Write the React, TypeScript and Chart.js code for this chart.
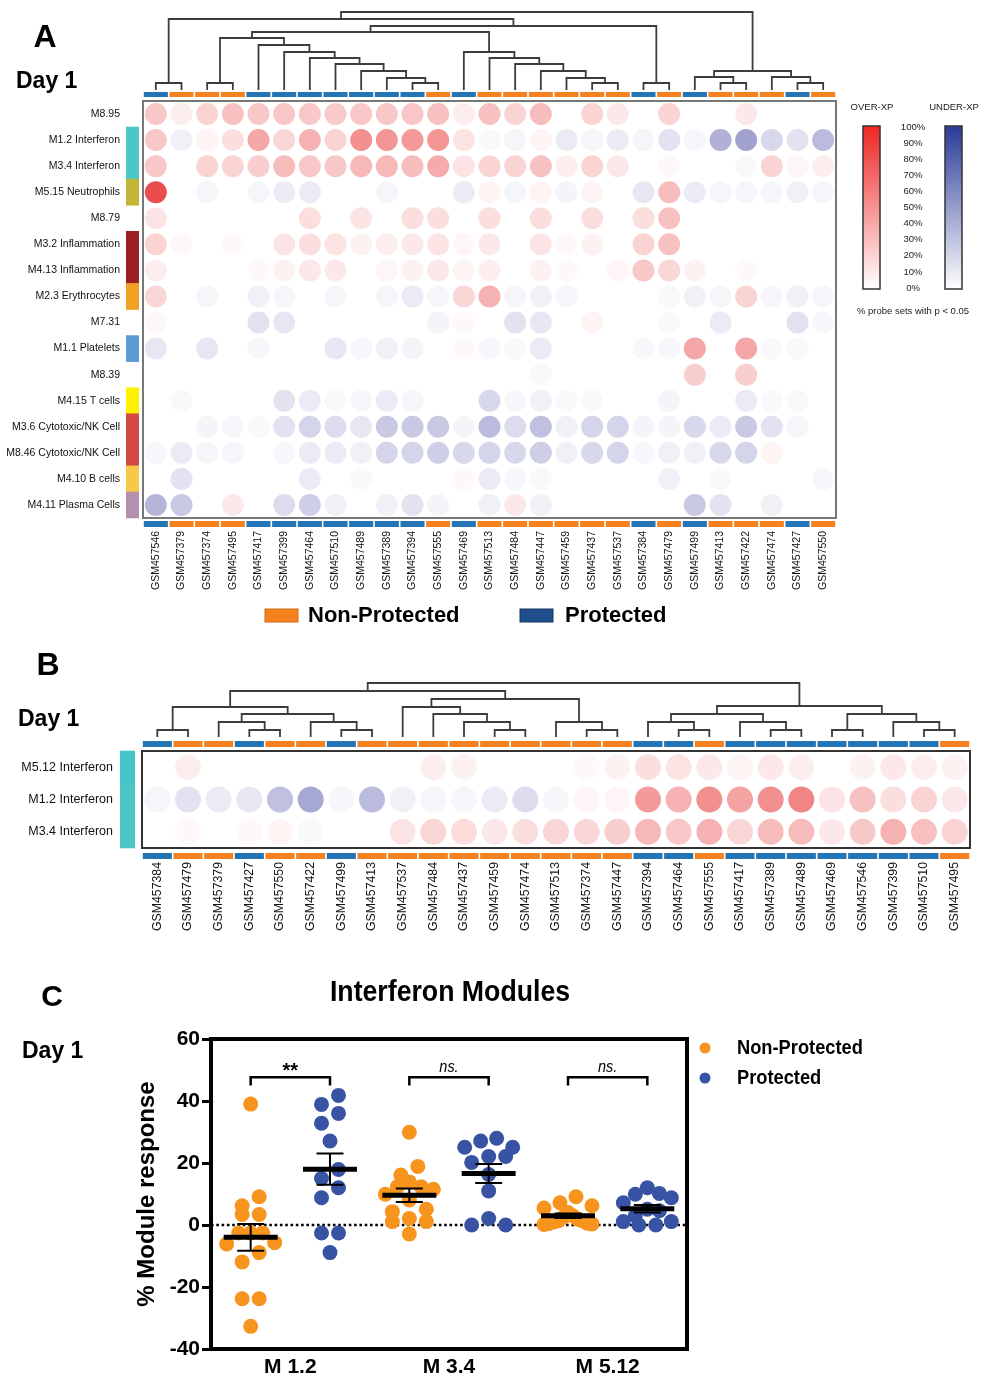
import React, { useEffect, useRef } from 'react';
import { Chart, registerables } from 'chart.js';
Chart.register(...registerables);

// ------------------------------------------------------------------ DATA
// Panel A – samples (columns, dendrogram order) and modules (rows)
const samplesA = ['GSM457546', 'GSM457379', 'GSM457374', 'GSM457495', 'GSM457417', 'GSM457399', 'GSM457464', 'GSM457510', 'GSM457489', 'GSM457389', 'GSM457394', 'GSM457555', 'GSM457469', 'GSM457513', 'GSM457484', 'GSM457447', 'GSM457459', 'GSM457437', 'GSM457537', 'GSM457384', 'GSM457479', 'GSM457499', 'GSM457413', 'GSM457422', 'GSM457474', 'GSM457427', 'GSM457550'];
const modulesA = ['M8.95', 'M1.2 Interferon', 'M3.4 Interferon', 'M5.15 Neutrophils', 'M8.79', 'M3.2 Inflammation', 'M4.13 Inflammation', 'M2.3 Erythrocytes', 'M7.31', 'M1.1 Platelets', 'M8.39', 'M4.15 T cells', 'M3.6 Cytotoxic/NK Cell', 'M8.46 Cytotoxic/NK Cell', 'M4.10 B cells', 'M4.11 Plasma Cells'];
// % probe sets with p<0.05 : positive = over-expressed, negative = under-expressed
const a_M8_95 = [25, 8, 20, 28, 25, 26, 25, 24, 25, 25, 26, 28, 8, 28, 20, 30, 0, 20, 10, 0, 20, 0, 0, 10, 0, 0, 0];
const a_M1_2 = [25, -8, 5, 15, 40, 18, 35, 20, 50, 48, 46, 48, 12, -3, -5, 5, -10, -5, -10, -5, -15, -5, -40, -48, -20, -15, -35];
const a_M3_4 = [25, 0, 20, 20, 22, 30, 25, 25, 32, 32, 30, 38, 12, 20, 20, 28, 8, 20, 10, 0, 3, 0, 0, -3, 20, 4, 8];
const a_M5_15 = [80, 0, -5, 0, -5, -10, -10, 0, 0, -5, 0, 0, -10, 5, -5, 5, -6, 5, 0, -12, 30, -10, -5, -5, -5, -8, -5];
const a_M8_79 = [12, 0, 0, 0, 0, 0, 15, 0, 12, 0, 15, 15, 0, 15, 0, 15, 0, 15, 0, 15, 28, 0, 0, 0, 0, 0, 0];
const a_M3_2 = [20, 3, 0, 3, 0, 12, 15, 12, 6, 8, 10, 12, 4, 10, 0, 12, 3, 6, 0, 20, 28, 0, 0, 0, 0, 0, 0];
const a_M4_13 = [8, 0, 0, 0, 3, 6, 10, 10, 0, 4, 6, 10, 5, 8, 0, 6, 3, 0, 4, 25, 18, 6, 0, 3, 0, 0, 0];
const a_M2_3 = [18, 0, -5, 0, -8, -5, 0, -4, 0, -5, -10, -5, 18, 35, -5, -8, -5, 0, 0, 0, -3, -8, -5, 20, -5, -8, -4];
const a_M7_31 = [3, 0, 0, 0, -15, -12, 0, 0, 0, 0, 0, -6, 3, 0, -15, -12, 0, 5, 0, 0, -3, 0, -10, 0, 0, -15, -4];
const a_M1_1 = [-12, 0, -12, 0, -4, 0, 0, -12, -4, -8, -6, 0, 3, -4, -3, -10, 0, 0, 0, -4, -4, 40, 0, 40, -3, -3, 0];
const a_M8_39 = [0, 0, 0, 0, 0, 0, 0, 0, 0, 0, 0, 0, 0, 0, 0, -3, 0, 0, 0, 0, 0, 22, 0, 22, 0, 0, 0];
const a_M4_15 = [0, -3, 0, 0, 0, -15, -10, -3, -4, -10, -5, 0, 0, -20, -4, -8, -3, -3, 0, 0, -6, 0, 0, -10, -3, -3, 0];
const a_M3_6 = [0, 0, -6, -4, -3, -15, -22, -18, -12, -28, -28, -28, -6, -35, -18, -32, -8, -22, -22, -6, -6, -20, -10, -28, -15, -4, 0];
const a_M8_46 = [-4, -10, -5, -5, 0, -4, -10, -10, -8, -22, -22, -25, -20, -22, -20, -25, -8, -20, -22, -4, -8, -8, -20, -22, 5, 0, 0];
const a_M4_10 = [0, -15, 0, 0, 0, 0, -10, 0, -3, 0, 0, 0, 3, -10, -4, -3, 0, 0, 0, 0, -8, 0, -3, 0, 0, 0, -4];
const a_M4_11 = [-38, -28, 0, 10, 0, -18, -25, -8, 0, -8, -15, -6, 0, -8, 10, -8, 0, 0, 0, 0, 0, -28, -15, 0, -8, 0, 0];

// Panel B
const samplesB = ['GSM457384', 'GSM457479', 'GSM457379', 'GSM457427', 'GSM457550', 'GSM457422', 'GSM457499', 'GSM457413', 'GSM457537', 'GSM457484', 'GSM457437', 'GSM457459', 'GSM457474', 'GSM457513', 'GSM457374', 'GSM457447', 'GSM457394', 'GSM457464', 'GSM457555', 'GSM457417', 'GSM457389', 'GSM457489', 'GSM457469', 'GSM457546', 'GSM457399', 'GSM457510', 'GSM457495'];
const modulesB = ['M5.12 Interferon', 'M1.2 Interferon', 'M3.4 Interferon'];
const b_M5_12 = [0, 8, 0, 0, 0, 0, 0, 0, 0, 8, 6, 0, 0, 0, 3, 6, 15, 12, 10, 5, 10, 8, 0, 6, 10, 8, 6];
const b_M1_2 = [-5, -15, -10, -12, -32, -45, -4, -35, -8, -5, -5, -10, -18, -4, 4, 4, 45, 35, 50, 42, 50, 55, 12, 28, 15, 20, 10];
const b_M3_4 = [0, 3, 0, 3, 5, -3, 0, 0, 12, 18, 16, 10, 15, 18, 18, 22, 32, 25, 35, 18, 30, 30, 10, 25, 35, 28, 20];

// Group membership
const protectedSamples = ['GSM457546', 'GSM457417', 'GSM457399', 'GSM457464', 'GSM457510', 'GSM457489', 'GSM457389', 'GSM457394', 'GSM457469', 'GSM457384', 'GSM457499', 'GSM457427'];
const groupNames = ['Non-Protected', 'Protected'];

// Dendrogram merges (hclust style): negative = leaf (1-based column), positive = earlier merge, third = height
const mergesA = [
  [-1, -2, 7], [-3, -4, 7], [-11, -12, 7], [-10, 3, 12], [-9, 4, 19], [-8, 5, 26], [-7, 6, 32], [-6, 7, 38], [-5, 8, 45], [2, 9, 52],
  [-18, -19, 7], [-17, 11, 12], [-16, 12, 19], [-15, 13, 26], [-14, 14, 32], [-13, 15, 38], [10, 16, 58], [-20, -21, 7], [17, 18, 64], [1, 19, 71],
  [-23, -24, 7], [-22, 21, 13], [-26, -27, 7], [-25, 23, 13], [22, 24, 19], [20, 25, 78],
];
const mergesB = [
  [-1, -2, 7], [-4, -5, 7], [-3, 2, 15], [-7, -8, 7], [-6, 4, 15], [3, 5, 23], [1, 6, 30], [-12, -13, 7], [-11, 8, 15], [-10, 9, 23],
  [-9, 10, 30], [-15, -16, 7], [-14, 12, 15], [11, 13, 38], [7, 14, 46], [-18, -19, 7], [-17, 16, 15], [-21, -22, 7], [-20, 18, 15], [17, 19, 23],
  [-23, -24, 7], [-26, -27, 7], [-25, 22, 15], [21, 23, 23], [20, 24, 31], [15, 25, 54],
];
const colorbarTicks = ['100%', '90%', '80%', '70%', '60%', '50%', '40%', '30%', '20%', '10%', '0%'];

// Panel C – % module response per subject
const modulesC = ['M 1.2', 'M 3.4', 'M 5.12'];
const c_M1_2_NP = [39, 9.1, 6.2, 3.4, 3.4, -2.6, -2.6, -2.6, -5.7, -6.1, -8.9, -11.9, -23.8, -23.8, -32.7];
const c_M1_2_P = [41.8, 38.9, 36.0, 32.8, 27.1, 17.9, 15.0, 12.0, 8.8, -2.6, -2.6, -8.9];
const c_M3_4_NP = [29.9, 18.9, 16.1, 13.9, 12.3, 12.3, 11.5, 9.9, 8.1, 5.1, 4.3, 2.1, 1.1, 1.1, -2.9];
const c_M3_4_P = [28.0, 27.1, 25.1, 25.1, 22.1, 22.1, 20.2, 16.3, 11.0, 2.1, 0, 0];
const c_M5_12_NP = [9.1, 7.2, 6.2, 5.5, 4.0, 3.0, 2.5, 1.9, 1.4, 1.0, 0.6, 0.3, 0.2, 0.5, 1.4];
const c_M5_12_P = [12.0, 10.2, 9.9, 8.8, 7.2, 5.1, 4.6, 3.0, 1.1, 1.1, 0, 0];
const significance = ['**', 'ns.', 'ns.'];

// ------------------------------------------------------------------ STYLE
const FONT = "'Liberation Sans', Arial, Helvetica, sans-serif";
const ORANGE_BAR = '#f5821f';
const BLUE_BAR = '#2475b5';
const DOT_ORANGE = '#f7941d';
const DOT_BLUE = '#3953a4';
const MODULE_COLORS: Record<string, string> = {
  'M1.2 Interferon': '#4cc6c6',
  'M3.4 Interferon': '#4cc6c6',
  'M5.12 Interferon': '#45c4c8',
  'M5.15 Neutrophils': '#c2b634',
  'M3.2 Inflammation': '#9a1f22',
  'M4.13 Inflammation': '#9a1f22',
  'M2.3 Erythrocytes': '#f0a024',
  'M1.1 Platelets': '#5b9bd3',
  'M4.15 T cells': '#fff200',
  'M3.6 Cytotoxic/NK Cell': '#d24b42',
  'M8.46 Cytotoxic/NK Cell': '#d24b42',
  'M4.10 B cells': '#f7c948',
  'M4.11 Plasma Cells': '#b58fae',
};

Chart.defaults.font.family = FONT;
Chart.defaults.color = '#111';

function cellColor(v: number) {
  const a = Math.min(1, Math.abs(v) / 100);
  return v > 0 ? `rgba(229,33,33,${a})` : `rgba(60,60,158,${a})`;
}

function txt(ctx: CanvasRenderingContext2D, s: string, x: number, y: number, font: string, align: CanvasTextAlign = 'left', color = '#000', squeeze = 1) {
  ctx.save();
  ctx.font = font;
  ctx.fillStyle = color;
  ctx.textAlign = align;
  ctx.textBaseline = 'middle';
  ctx.translate(x, y);
  ctx.scale(squeeze, 1);
  ctx.fillText(s, 0, 0);
  ctx.restore();
}

type HeatCfg = {
  samples: string[];
  modules: string[];
  rows: number[][];
  merges: number[][];
  pad: { left: number; top: number; right: number; bottom: number };
  yWidth: number;
  xHeight: number;
  radius: number;
  rowFont: number;
  colFont: number;
  yPad: number;
  xPad: number;
  leafBase: number;
  topBar: [number, number];
  bottomBar: [number, number];
  blockX: [number, number];
  boxColor: string;
  boxWidth: number;
  extra?: (ctx: CanvasRenderingContext2D, chart: any) => void;
};

function makeHeat(canvas: HTMLCanvasElement, cfg: HeatCfg) {
  const pts: any[] = [];
  cfg.rows.forEach((row, r) => row.forEach((v, c) => {
    if (v !== 0) pts.push({ x: cfg.samples[c], y: cfg.modules[r], v });
  }));
  const deco = {
    id: 'heatDeco',
    afterDraw(chart: any) {
      const ctx: CanvasRenderingContext2D = chart.ctx;
      const xs = chart.scales.x;
      const ys = chart.scales.y;
      const a = chart.chartArea;
      ctx.save();
      ctx.strokeStyle = cfg.boxColor;
      ctx.lineWidth = cfg.boxWidth;
      ctx.strokeRect(a.left, a.top, a.right - a.left, a.bottom - a.top);
      const bw = (a.right - a.left) / cfg.samples.length;
      cfg.samples.forEach((s, i) => {
        const x = xs.getPixelForValue(i);
        ctx.fillStyle = protectedSamples.includes(s) ? BLUE_BAR : ORANGE_BAR;
        ctx.fillRect(x - bw / 2 + 0.8, cfg.topBar[0], bw - 1.6, cfg.topBar[1] - cfg.topBar[0]);
        ctx.fillRect(x - bw / 2 + 0.8, cfg.bottomBar[0], bw - 1.6, cfg.bottomBar[1] - cfg.bottomBar[0]);
      });
      const rh = (a.bottom - a.top) / cfg.modules.length;
      cfg.modules.forEach((m, r) => {
        const col = MODULE_COLORS[m];
        if (!col) return;
        const y = ys.getPixelForValue(r);
        ctx.fillStyle = col;
        ctx.fillRect(cfg.blockX[0], y - rh / 2 - 0.3, cfg.blockX[1] - cfg.blockX[0], rh + 0.6);
      });
      // dendrogram
      const nx: number[] = [];
      const ny: number[] = [];
      const pos = (id: number) => id < 0
        ? { x: xs.getPixelForValue(-id - 1), y: cfg.leafBase }
        : { x: nx[id - 1], y: ny[id - 1] };
      ctx.strokeStyle = '#3c3c3c';
      ctx.lineWidth = 1.8;
      ctx.beginPath();
      cfg.merges.forEach(([l, r, h], i) => {
        const pl = pos(l);
        const pr = pos(r);
        const y = cfg.leafBase - h;
        ctx.moveTo(pl.x, pl.y);
        ctx.lineTo(pl.x, y);
        ctx.lineTo(pr.x, y);
        ctx.lineTo(pr.x, pr.y);
        nx[i] = (pl.x + pr.x) / 2;
        ny[i] = y;
      });
      ctx.stroke();
      if (cfg.extra) cfg.extra(ctx, chart);
      ctx.restore();
    },
  };
  return new Chart(canvas, {
    type: 'scatter',
    data: {
      datasets: [{
        data: pts,
        pointRadius: cfg.radius,
        pointHoverRadius: cfg.radius,
        borderWidth: 0,
        backgroundColor: (c: any) => cellColor(c.raw ? c.raw.v : 0),
      }],
    },
    options: {
      animation: false,
      responsive: false,
      devicePixelRatio: 1,
      events: [],
      layout: { padding: cfg.pad },
      plugins: { legend: { display: false }, tooltip: { enabled: false } },
      scales: {
        x: {
          type: 'category',
          labels: cfg.samples,
          offset: true,
          position: 'bottom',
          grid: { display: false, drawTicks: false },
          border: { display: false },
          ticks: { autoSkip: false, minRotation: 90, maxRotation: 90, padding: cfg.xPad, color: '#111', font: { size: cfg.colFont } },
          afterFit: (s: any) => { s.height = cfg.xHeight; },
        },
        y: {
          type: 'category',
          labels: cfg.modules,
          offset: true,
          position: 'left',
          grid: { display: false, drawTicks: false },
          border: { display: false },
          ticks: { autoSkip: false, padding: cfg.yPad, color: '#111', font: { size: cfg.rowFont } },
          afterFit: (s: any) => { s.width = cfg.yWidth; },
        },
      },
    } as any,
    plugins: [deco],
  });
}

function extraA(ctx: CanvasRenderingContext2D) {
  txt(ctx, 'A', 45, 38, `bold 32px ${FONT}`, 'center');
  txt(ctx, 'Day 1', 16, 82, `bold 23px ${FONT}`);
  // colour keys
  const top = 126;
  const bot = 289;
  const gR = ctx.createLinearGradient(0, top, 0, bot);
  gR.addColorStop(0, '#ee2624');
  gR.addColorStop(1, '#ffffff');
  ctx.fillStyle = gR;
  ctx.fillRect(863, top, 17, bot - top);
  const gB = ctx.createLinearGradient(0, top, 0, bot);
  gB.addColorStop(0, '#2b3b98');
  gB.addColorStop(1, '#ffffff');
  ctx.fillStyle = gB;
  ctx.fillRect(945, top, 17, bot - top);
  ctx.strokeStyle = '#333';
  ctx.lineWidth = 1.5;
  ctx.strokeRect(863, top, 17, bot - top);
  ctx.strokeRect(945, top, 17, bot - top);
  colorbarTicks.forEach((t, i) => {
    txt(ctx, t, 913, top + 1 + (i * (bot - top - 2)) / (colorbarTicks.length - 1), `9.5px ${FONT}`, 'center', '#222');
  });
  txt(ctx, 'OVER-XP', 872, 107, `9.5px ${FONT}`, 'center', '#222');
  txt(ctx, 'UNDER-XP', 954, 107, `9.5px ${FONT}`, 'center', '#222');
  txt(ctx, '% probe sets with p < 0.05', 913, 311, `9.5px ${FONT}`, 'center', '#222');
  // group legend
  ctx.fillStyle = ORANGE_BAR;
  ctx.fillRect(265, 609, 33, 13);
  ctx.strokeStyle = '#d06a12';
  ctx.lineWidth = 1;
  ctx.strokeRect(265, 609, 33, 13);
  txt(ctx, groupNames[0], 308, 616, `bold 22px ${FONT}`);
  ctx.fillStyle = '#1f4e8c';
  ctx.fillRect(520, 609, 33, 13);
  ctx.strokeStyle = '#123463';
  ctx.strokeRect(520, 609, 33, 13);
  txt(ctx, groupNames[1], 565, 616, `bold 22px ${FONT}`);
}

function extraB(ctx: CanvasRenderingContext2D) {
  txt(ctx, 'B', 48, 26, `bold 32px ${FONT}`, 'center');
  txt(ctx, 'Day 1', 18, 80, `bold 23px ${FONT}`);
}

function mean(v: number[]) { return v.reduce((s, x) => s + x, 0) / v.length; }
function sem(v: number[]) {
  const m = mean(v);
  const sd = Math.sqrt(v.reduce((s, x) => s + (x - m) * (x - m), 0) / (v.length - 1));
  return sd / Math.sqrt(v.length);
}

// column-scatter layout: points binned by value, spread symmetrically in each bin
function columnScatter(values: number[], center: number, pxX: number, pxY: number, binPx: number, step: number, maxHalf: number) {
  const order = values.map((_, i) => i).sort((a, b) => values[b] - values[a]);
  const out: { x: number; y: number }[] = new Array(values.length);
  let i = 0;
  while (i < order.length) {
    const start = values[order[i]];
    const bin: number[] = [];
    while (i < order.length && (start - values[order[i]]) * pxY <= binPx) { bin.push(order[i]); i++; }
    const n = bin.length;
    const s = n > 1 ? Math.min(step, (2 * maxHalf) / (n - 1)) : 0;
    const slots: number[] = [];
    for (let k = 0; k < n; k++) slots.push((k - (n - 1) / 2) * s);
    slots.sort((a, b) => Math.abs(a) - Math.abs(b) || b - a);
    bin.forEach((idx, j) => { out[idx] = { x: center + slots[j] / pxX, y: values[idx] }; });
  }
  return out;
}

function makeDot(canvas: HTMLCanvasElement) {
  const npGroups = [c_M1_2_NP, c_M3_4_NP, c_M5_12_NP];
  const pGroups = [c_M1_2_P, c_M3_4_P, c_M5_12_P];
  const pxX = 476 / 6;
  const pxY = 310 / 100;
  const npData = npGroups.flatMap((g, m) => columnScatter(g, m * 2 + 0.5, pxX, pxY, 15, 17, 24));
  const pData = pGroups.flatMap((g, m) => columnScatter(g, m * 2 + 1.5, pxX, pxY, 15, 17, 24));
  const deco = {
    id: 'dotDeco',
    beforeDatasetsDraw(chart: any) {
      const ctx: CanvasRenderingContext2D = chart.ctx;
      const a = chart.chartArea;
      const y0 = chart.scales.y.getPixelForValue(0);
      ctx.save();
      ctx.strokeStyle = '#000';
      ctx.lineWidth = 2.6;
      ctx.setLineDash([2.6, 2.7]);
      ctx.beginPath();
      ctx.moveTo(a.left, y0);
      ctx.lineTo(a.right, y0);
      ctx.stroke();
      ctx.restore();
    },
    afterDatasetsDraw(chart: any) {
      const ctx: CanvasRenderingContext2D = chart.ctx;
      const a = chart.chartArea;
      const xs = chart.scales.x;
      const ys = chart.scales.y;
      ctx.save();
      ctx.strokeStyle = '#000';
      const groups = [c_M1_2_NP, c_M1_2_P, c_M3_4_NP, c_M3_4_P, c_M5_12_NP, c_M5_12_P];
      groups.forEach((g, k) => {
        const cx = k + 0.5;
        const m = mean(g);
        const e = sem(g);
        ctx.lineWidth = 2;
        ctx.beginPath();
        ctx.moveTo(xs.getPixelForValue(cx), ys.getPixelForValue(m - e));
        ctx.lineTo(xs.getPixelForValue(cx), ys.getPixelForValue(m + e));
        [m - e, m + e].forEach((v) => {
          ctx.moveTo(xs.getPixelForValue(cx - 0.17), ys.getPixelForValue(v));
          ctx.lineTo(xs.getPixelForValue(cx + 0.17), ys.getPixelForValue(v));
        });
        ctx.stroke();
        ctx.lineWidth = 5;
        ctx.beginPath();
        ctx.moveTo(xs.getPixelForValue(cx - 0.34), ys.getPixelForValue(m));
        ctx.lineTo(xs.getPixelForValue(cx + 0.34), ys.getPixelForValue(m));
        ctx.stroke();
      });
      significance.forEach((s, m) => {
        const x1 = xs.getPixelForValue(m * 2 + 0.5);
        const x2 = xs.getPixelForValue(m * 2 + 1.5);
        const yb = ys.getPixelForValue(47.7);
        const ye = ys.getPixelForValue(45);
        ctx.lineWidth = 2.5;
        ctx.beginPath();
        ctx.moveTo(x1, ye);
        ctx.lineTo(x1, yb);
        ctx.lineTo(x2, yb);
        ctx.lineTo(x2, ye);
        ctx.stroke();
        if (s === '**') txt(ctx, s, (x1 + x2) / 2, yb - 6, `bold 20px ${FONT}`, 'center');
        else txt(ctx, s, (x1 + x2) / 2, yb - 10, `italic 17px ${FONT}`, 'center', '#000', 0.85);
      });
      ctx.lineWidth = 4;
      ctx.strokeRect(a.left, a.top, a.right - a.left, a.bottom - a.top);
      ctx.restore();
    },
    afterDraw(chart: any) {
      const ctx: CanvasRenderingContext2D = chart.ctx;
      ctx.save();
      txt(ctx, 'C', 52, 58, `bold 30px ${FONT}`, 'center');
      txt(ctx, 'Day 1', 22, 112, `bold 23px ${FONT}`);
      txt(ctx, 'Interferon Modules', 450, 53, `bold 29px ${FONT}`, 'center', '#000', 0.92);
      ctx.fillStyle = DOT_ORANGE;
      ctx.beginPath();
      ctx.arc(705, 108, 5.5, 0, Math.PI * 2);
      ctx.fill();
      ctx.fillStyle = DOT_BLUE;
      ctx.beginPath();
      ctx.arc(705, 138, 5.5, 0, Math.PI * 2);
      ctx.fill();
      txt(ctx, groupNames[0], 737, 108, `bold 21px ${FONT}`, 'left', '#000', 0.87);
      txt(ctx, groupNames[1], 737, 138, `bold 21px ${FONT}`, 'left', '#000', 0.87);
      ctx.restore();
    },
  };
  return new Chart(canvas, {
    type: 'scatter',
    data: {
      datasets: [
        { label: groupNames[0], data: npData, backgroundColor: DOT_ORANGE, borderWidth: 0, pointRadius: 7.5, pointHoverRadius: 7.5 },
        { label: groupNames[1], data: pData, backgroundColor: DOT_BLUE, borderWidth: 0, pointRadius: 7.5, pointHoverRadius: 7.5 },
      ],
    },
    options: {
      animation: false,
      responsive: false,
      devicePixelRatio: 1,
      events: [],
      layout: { padding: { left: 131, top: 99, right: 313, bottom: 0 } },
      plugins: { legend: { display: false }, tooltip: { enabled: false } },
      scales: {
        x: {
          type: 'linear',
          min: 0,
          max: 6,
          grid: { display: false, drawTicks: false },
          border: { display: false },
          afterBuildTicks: (s: any) => { s.ticks = modulesC.map((_, i) => ({ value: i * 2 + 1 })); },
          ticks: {
            padding: 6,
            color: '#000',
            font: { size: 21, weight: 'bold' },
            callback: (v: any) => modulesC[Math.round((Number(v) - 1) / 2)],
          },
          afterFit: (s: any) => { s.height = 51; },
        },
        y: {
          type: 'linear',
          min: -40,
          max: 60,
          grid: { display: true, drawOnChartArea: false, drawTicks: true, tickLength: 9, lineWidth: 3, color: '#000' },
          border: { display: false },
          ticks: { stepSize: 20, padding: 2, color: '#000', font: { size: 21, weight: 'bold' } },
          title: { display: true, text: '% Module response', color: '#000', font: { size: 24, weight: 'bold' }, padding: { top: 2, bottom: 0 } },
          afterFit: (s: any) => { s.width = 80; },
        },
      },
    } as any,
    plugins: [deco],
  });
}

export default function App() {
  const refA = useRef<HTMLCanvasElement>(null);
  const refB = useRef<HTMLCanvasElement>(null);
  const refC = useRef<HTMLCanvasElement>(null);
  useEffect(() => {
    const charts = [
      makeHeat(refA.current!, {
        samples: samplesA,
        modules: modulesA,
        rows: [a_M8_95, a_M1_2, a_M3_4, a_M5_15, a_M8_79, a_M3_2, a_M4_13, a_M2_3, a_M7_31, a_M1_1, a_M8_39, a_M4_15, a_M3_6, a_M8_46, a_M4_10, a_M4_11],
        merges: mergesA,
        pad: { left: 0, top: 101, right: 164, bottom: 0 },
        yWidth: 143,
        xHeight: 122,
        radius: 11,
        rowFont: 10.5,
        colFont: 10.5,
        yPad: 23,
        xPad: 13,
        leafBase: 90,
        topBar: [92, 97],
        bottomBar: [521, 527],
        blockX: [126, 139],
        boxColor: '#777',
        boxWidth: 2,
        extra: extraA,
      }),
      makeHeat(refB.current!, {
        samples: samplesB,
        modules: modulesB,
        rows: [b_M5_12, b_M1_2, b_M3_4],
        merges: mergesB,
        pad: { left: 0, top: 111, right: 30, bottom: 0 },
        yWidth: 142,
        xHeight: 92,
        radius: 13,
        rowFont: 12.5,
        colFont: 12.3,
        yPad: 29,
        xPad: 14,
        leafBase: 97,
        topBar: [101, 107],
        bottomBar: [213, 219],
        blockX: [120, 135],
        boxColor: '#333',
        boxWidth: 2,
        extra: extraB,
      }),
      makeDot(refC.current!),
    ];
    return () => charts.forEach((c) => c.destroy());
  }, []);
  const cs = (top: number, h: number): React.CSSProperties => ({ position: 'absolute', left: 0, top, width: 1000, height: h });
  return (
    <div style={{ position: 'absolute', left: 0, top: 0, width: 1000, height: 1400, background: '#fff' }}>
      <canvas ref={refA} width={1000} height={640} style={cs(0, 640)} />
      <canvas ref={refB} width={1000} height={300} style={cs(640, 300)} />
      <canvas ref={refC} width={1000} height={460} style={cs(940, 460)} />
    </div>
  );
}
